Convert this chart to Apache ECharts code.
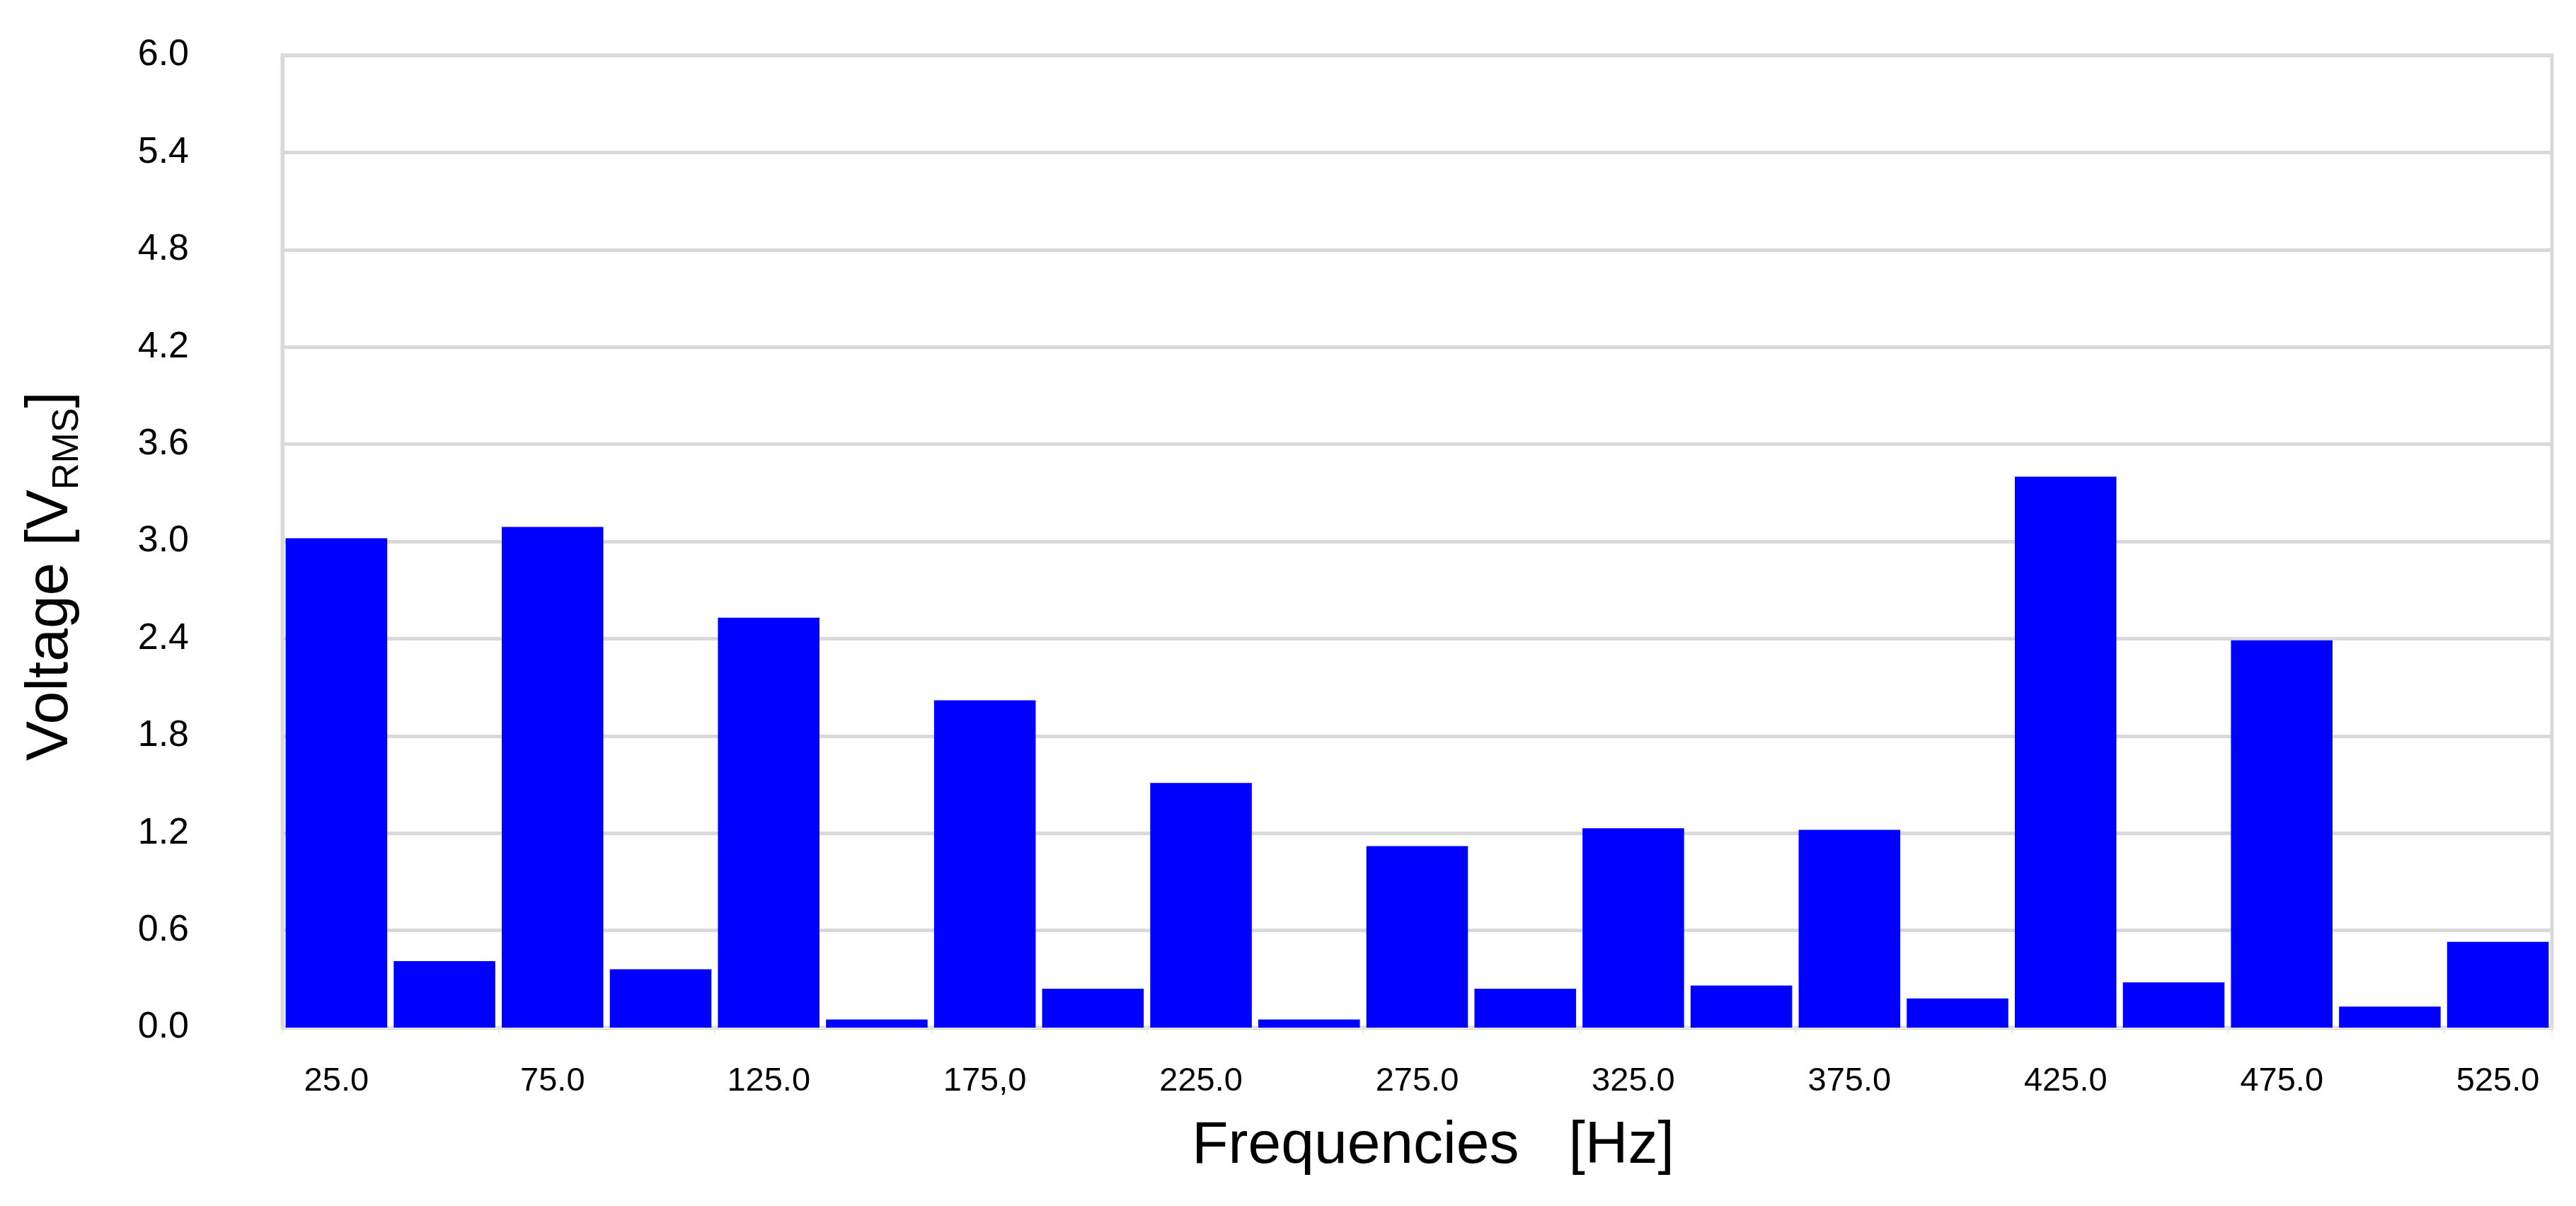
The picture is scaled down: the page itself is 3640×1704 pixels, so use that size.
<!DOCTYPE html>
<html>
<head>
    <meta charset="utf-8">
    <title>Voltage spectrum</title>
    <style>
        html, body { margin: 0; padding: 0; background: #fff; }
    </style>
</head>
<body>
    <div id="main" style="width: 3640px;height:1704px;"></div>
    <script src="https://cdn.jsdelivr.net/npm/echarts@6/dist/echarts.min.js"></script>
    <script type="text/javascript">
        // categories (Hz) - label text as printed, incl. the "175,0"
        var freqLabels = ['25.0', '50.0', '75.0', '100.0', '125.0', '150.0', '175,0', '200.0',
                          '225.0', '250.0', '275.0', '300.0', '325.0', '350.0', '375.0', '400.0',
                          '425.0', '450.0', '475.0', '500.0', '525.0'];
        // RMS voltage per frequency bin
        var voltages = [3.02, 0.41, 3.09, 0.36, 2.53, 0.05, 2.02, 0.24,
                        1.51, 0.05, 1.12, 0.24, 1.23, 0.26, 1.22, 0.18,
                        3.40, 0.28, 2.39, 0.13, 0.53];
        // y axis scale
        var yMin = 0, yMax = 6, yStep = 0.6;

        var gridColor = '#d9d9d9';
        var font = "'Liberation Sans', Arial, sans-serif";

        var myChart = echarts.init(document.getElementById('main'));

        var option = {
            backgroundColor: '#ffffff',
            animation: false,
            grid: {
                left: 399, right: 34, top: 78, bottom: 252,
                show: true,
                borderColor: gridColor,
                borderWidth: 5,
                backgroundColor: 'transparent'
            },
            xAxis: {
                type: 'category',
                data: freqLabels,
                axisLine: { show: true, lineStyle: { color: '#e6e6dc', width: 3 } },
                axisTick: { show: true, length: 8, lineStyle: { color: '#e6e6e6', width: 2 } },
                axisLabel: {
                    interval: 1,
                    fontSize: 47,
                    margin: 53,
                    color: '#000',
                    fontFamily: font
                }
            },
            yAxis: {
                type: 'value',
                min: yMin,
                max: yMax,
                interval: yStep,
                axisLine: { show: true, lineStyle: { color: gridColor, width: 5 } },
                axisTick: { show: false },
                splitLine: { lineStyle: { color: gridColor, width: 5 } },
                axisLabel: {
                    fontSize: 52,
                    margin: 132,
                    color: '#000',
                    fontFamily: font,
                    formatter: function (v) { return v.toFixed(1); }
                }
            },
            series: [{
                type: 'bar',
                data: voltages,
                barCategoryGap: '6%',
                itemStyle: { color: '#0000ff' }
            }],
            // axis titles
            graphic: [
                {
                    type: 'text',
                    x: 72, y: 814,
                    rotation: Math.PI / 2,
                    style: {
                        text: 'Voltage [V{sub|RMS}]',
                        align: 'center',
                        verticalAlign: 'middle',
                        fill: '#000',
                        fontSize: 84,
                        fontFamily: font,
                        lineHeight: 100,
                        rich: {
                            sub: { fontSize: 52, fontFamily: font, lineHeight: 100, verticalAlign: 'bottom', fill: '#000' }
                        }
                    }
                },
                {
                    type: 'text',
                    x: 2025, y: 1620,
                    style: {
                        text: 'Frequencies   [Hz]',
                        align: 'center',
                        verticalAlign: 'middle',
                        fill: '#000',
                        fontSize: 84,
                        fontFamily: font
                    }
                }
            ]
        };

        myChart.setOption(option);
    </script>
</body>
</html>
